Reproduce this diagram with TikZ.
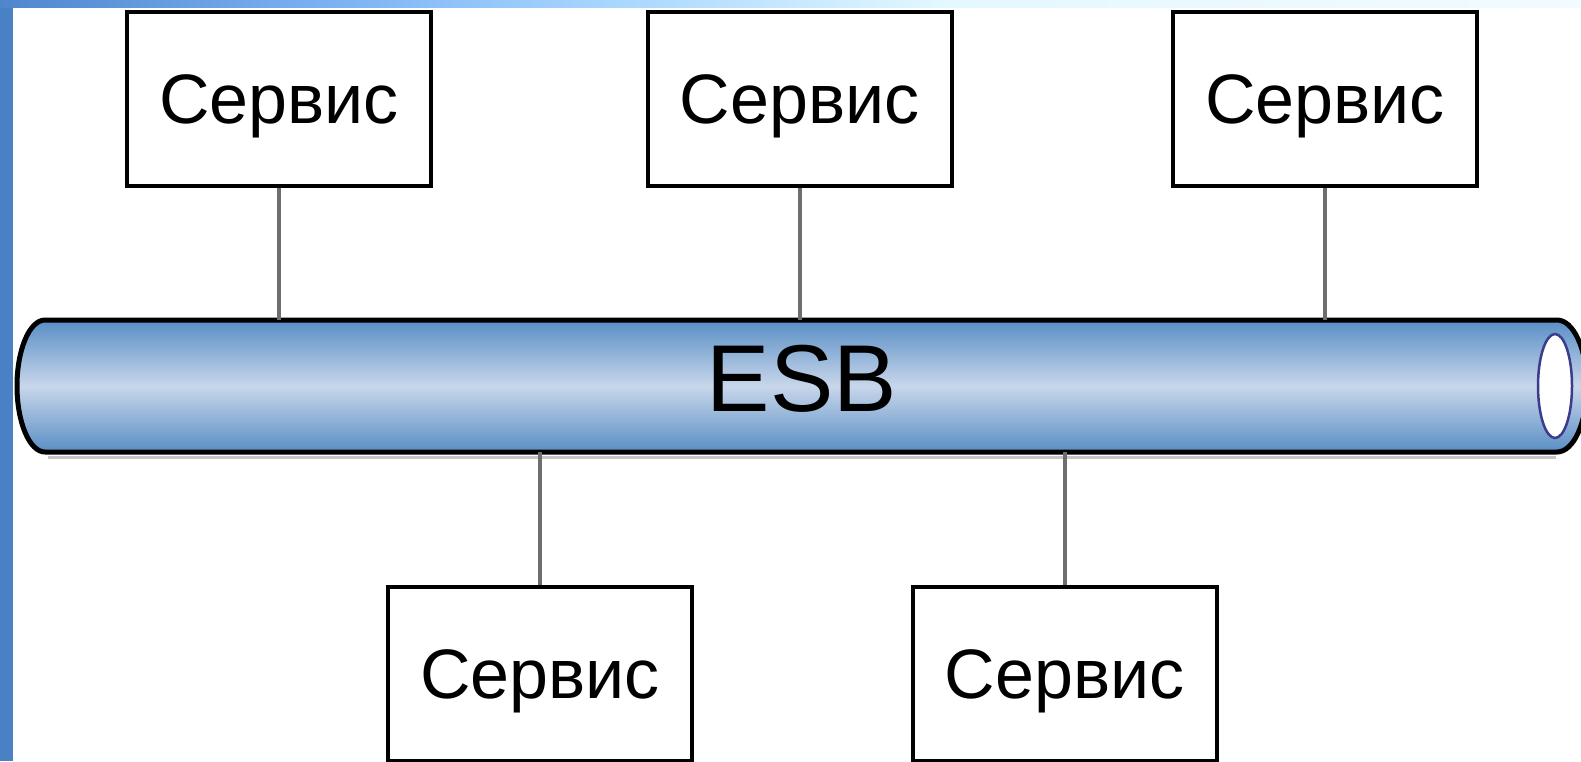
\documentclass[tikz,border=0pt]{standalone}
\usepackage{fontspec}
\setmainfont{Liberation Sans}
\definecolor{stripblue}{RGB}{74,128,196}
\definecolor{tb1}{RGB}{80,134,204}
\definecolor{tb2}{RGB}{120,174,240}
\definecolor{tb3}{RGB}{165,213,255}
\definecolor{tb4}{RGB}{228,248,255}
\definecolor{tb5}{RGB}{242,251,255}
\definecolor{pipedark}{RGB}{88,142,197}
\definecolor{pipelight}{RGB}{200,214,234}
\definecolor{holeedge}{RGB}{60,60,140}
\definecolor{conngray}{RGB}{110,110,110}
\tikzset{
  servbox/.style={draw=black, line width=4pt, fill=white, minimum width=304pt, minimum height=174pt, inner sep=0pt, font=\fontsize{70}{84}\selectfont},
  conn/.style={draw=conngray, line width=4pt},
  pipeshape/.style={draw=black, line width=5pt, top color=pipedark, bottom color=pipedark, middle color=pipelight}
}
\newcommand{\servtext}{\raisebox{-6pt}[50pt][14pt]{Сервис}}
\begin{document}
\begin{tikzpicture}[x=1pt, y=-1pt]
\useasboundingbox (0,0) rectangle (1581,761);
\fill[white] (0,0) rectangle (1581,761);
% frame strips
\fill[stripblue] (0,0) rectangle (13,761);
\shade[left color=tb1, right color=tb2] (0,0) rectangle (300,7);
\shade[left color=tb2, right color=tb3] (300,0) rectangle (600,7);
\shade[left color=tb3, right color=tb4] (600,0) rectangle (950,7);
\shade[left color=tb4, right color=tb5] (950,0) rectangle (1581,7);
% pipe placeholder node
\node[inner sep=0pt, minimum width=1512pt, minimum height=132pt] (pipe) at (801,386) {};
% boxes
\node[servbox] (s1) at (279,99) {\servtext};
\node[servbox] (s2) at (799.5,99) {\servtext};
\node[servbox] (s3) at (1325,99) {\servtext};
\node[servbox] (s4) at (540,674) {\servtext};
\node[servbox] (s5) at (1064.5,674) {\servtext};
% pipe shadow
\draw[gray!45, line width=3pt] (48,457) -- (1556,457);
% pipe body
\path[pipeshape] (45,320) -- (1557,320) arc[start angle=-90, end angle=90, x radius=30, y radius=66]
  -- (45,452) arc[start angle=90, end angle=270, x radius=28, y radius=66] -- cycle;
\draw[holeedge, line width=2.5pt, fill=white] (1555,386) ellipse [x radius=17, y radius=52];
\node[inner sep=0pt, font=\fontsize{95}{110}\selectfont] (esb) at (802,379) {ESB};
% connectors
\draw[conn] (s1.south) -- (s1.south |- pipe.north);
\draw[conn] (s2.south) -- (s2.south |- pipe.north);
\draw[conn] (s3.south) -- (s3.south |- pipe.north);
\draw[conn] (s4.north) -- (s4.north |- pipe.south);
\draw[conn] (s5.north) -- (s5.north |- pipe.south);
\end{tikzpicture}
\end{document}
